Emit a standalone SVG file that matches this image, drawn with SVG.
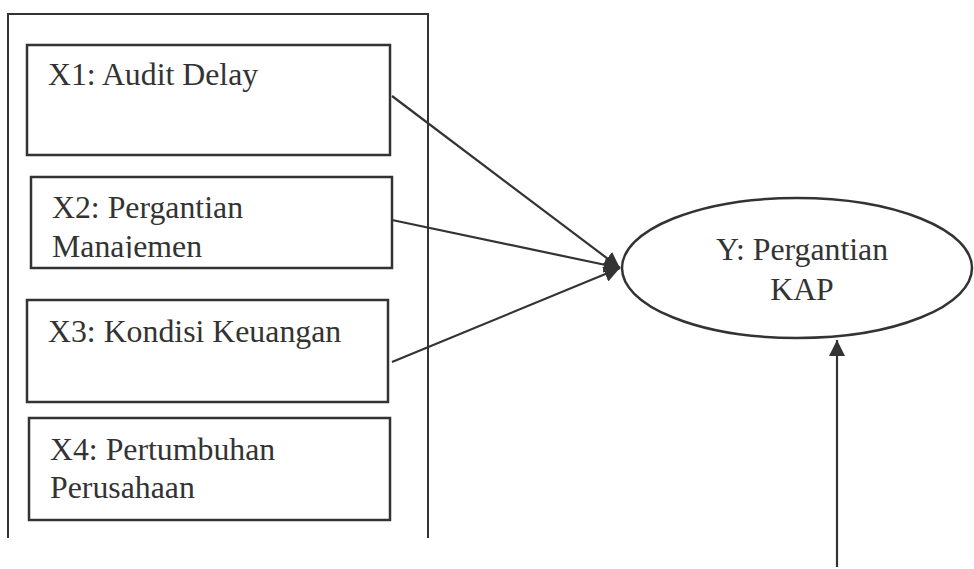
<svg xmlns="http://www.w3.org/2000/svg" width="974" height="569" viewBox="0 0 974 569">
<style>
.box{fill:#fff;stroke:#333;stroke-width:2.5}
.frame{fill:none;stroke:#333;stroke-width:2}
.t{font-family:"Liberation Serif","Times New Roman",serif;font-size:31.8px;fill:#333}
.c{fill:none;stroke:#333;stroke-width:2.2}
</style>
<defs>
<marker id="ah2" viewBox="0 0 10 10" refX="10" refY="5" markerWidth="16" markerHeight="16" orient="auto" markerUnits="userSpaceOnUse">
<path d="M0,0 L10,5 L0,10 z" fill="#333"/>
</marker>
<clipPath id="clipX2"><rect x="31" y="177" width="361" height="81"/></clipPath>
</defs>
<g id="frame">
<path class="frame" d="M8,538 V14 H428 V538"/>
</g>
<g id="x1">
<rect class="box" x="27" y="45" width="363" height="110"/>
<text class="t" x="48" y="85">X1: Audit Delay</text>
</g>
<g id="x2">
<rect class="box" x="31" y="177" width="361" height="91"/>
<g clip-path="url(#clipX2)">
<text class="t" x="52" y="218">X2: Pergantian</text>
<text class="t" x="52" y="257">Manajemen</text>
</g>
</g>
<g id="x3">
<rect class="box" x="27" y="300" width="361" height="102"/>
<text class="t" x="48" y="342">X3: Kondisi Keuangan</text>
</g>
<g id="x4">
<rect class="box" x="29" y="418" width="361" height="102"/>
<text class="t" x="50" y="460">X4: Pertumbuhan</text>
<text class="t" x="50" y="498">Perusahaan</text>
</g>
<g id="y">
<ellipse class="box" cx="797" cy="268" rx="175" ry="70"/>
<text class="t" x="802" y="260" text-anchor="middle">Y: Pergantian</text>
<text class="t" x="802" y="300" text-anchor="middle">KAP</text>
</g>
<g id="connectors">
<line class="c" x1="392" y1="96" x2="620" y2="268" marker-end="url(#ah2)"/>
<line class="c" x1="392" y1="220" x2="620" y2="268" marker-end="url(#ah2)"/>
<line class="c" x1="392" y1="362" x2="620" y2="268" marker-end="url(#ah2)"/>
<line class="c" x1="837" y1="567" x2="837" y2="340" marker-end="url(#ah2)"/>
</g>
</svg>
